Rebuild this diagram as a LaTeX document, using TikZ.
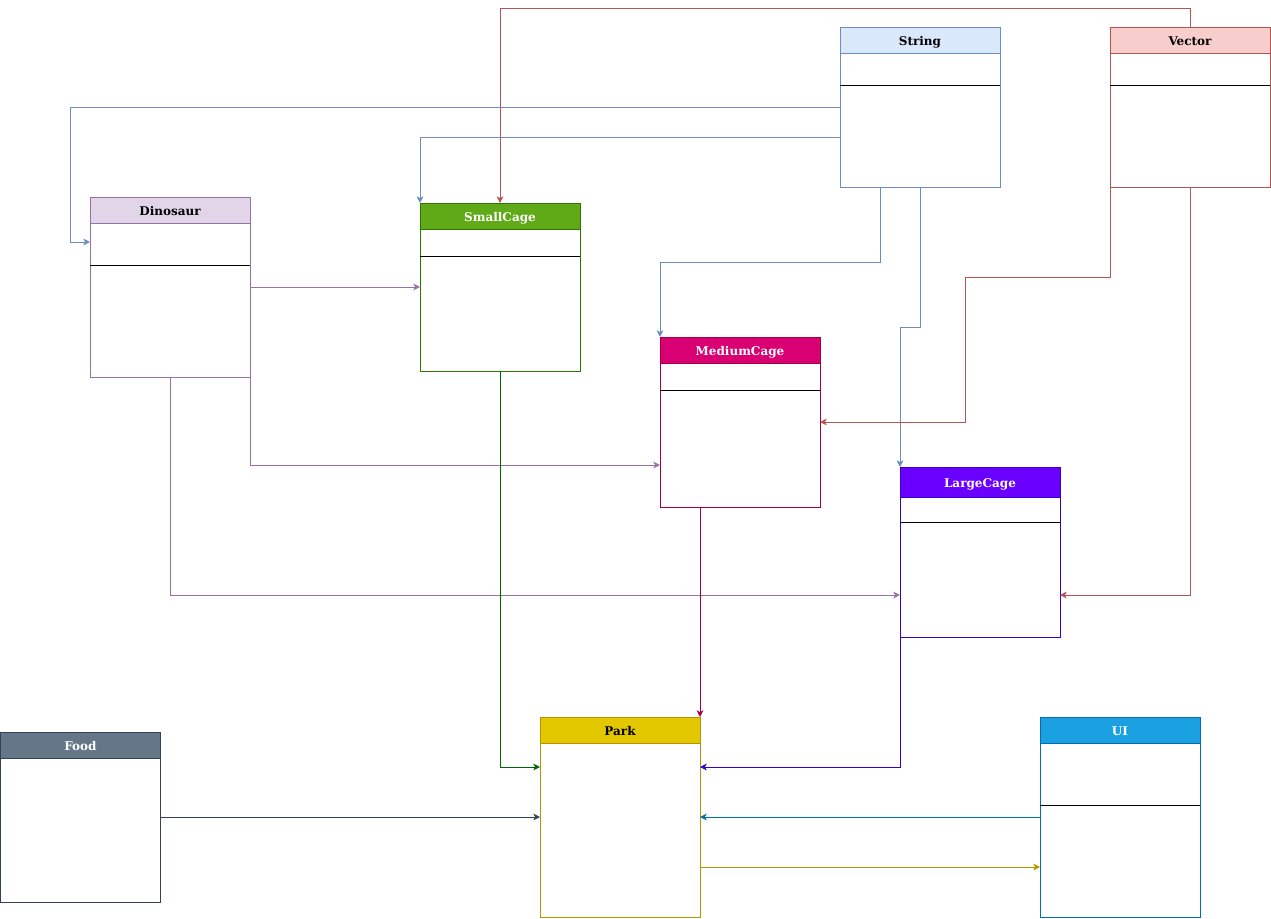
\documentclass[tikz,border=0pt]{standalone}
\usepackage{fontspec}
\setmainfont{DejaVu Serif}
\usepackage{xcolor}
\usepackage{tikz}
\usetikzlibrary{arrows.meta, positioning, calc}
\definecolor{strfill}{HTML}{DAE8FC}
\definecolor{strline}{HTML}{6C8EBF}
\definecolor{vecfill}{HTML}{F8CECC}
\definecolor{vecline}{HTML}{B85450}
\definecolor{dinofill}{HTML}{E1D5E7}
\definecolor{dinoline}{HTML}{9673A6}
\definecolor{smallfill}{HTML}{60A917}
\definecolor{smallline}{HTML}{2D7600}
\definecolor{smalledge}{HTML}{006600}
\definecolor{medfill}{HTML}{D80073}
\definecolor{medline}{HTML}{A50040}
\definecolor{largefill}{HTML}{6A00FF}
\definecolor{largeline}{HTML}{3700CC}
\definecolor{foodfill}{HTML}{647687}
\definecolor{foodline}{HTML}{314354}
\definecolor{parkfill}{HTML}{E3C800}
\definecolor{parkline}{HTML}{B09500}
\definecolor{uifill}{HTML}{1BA1E2}
\definecolor{uiline}{HTML}{006EAF}

\begin{document}
\begin{tikzpicture}[x=0.75pt, y=-0.75pt,
  classbox/.style={rectangle, draw=#1, fill=white, line width=0.75pt, inner sep=0pt,
                   outer sep=0pt, minimum width=120pt},
  hdr/.style 2 args={rectangle, draw=#2, fill=#1, line width=0.75pt, inner sep=0pt,
                     outer sep=0pt, minimum width=120pt, minimum height=19.5pt, anchor=north,
                     text height=8.5pt, text depth=0pt,
                     font=\fontsize{9}{11}\selectfont\bfseries},
  divline/.style={black, line width=0.75pt},
  arr/.style={-{Stealth[length=5pt, width=5pt, inset=1.3pt]}, line width=0.75pt, #1},
]
  \useasboundingbox (0,0) rectangle (1271,918);

  % Classes
  \node[classbox=strline, minimum height=120pt]    (str)  at (920,107)  {};
  \node[hdr={strfill}{strline}]                   (strh) at (str.north) {String};
  \node[classbox=vecline, minimum height=120pt]    (vec)  at (1190,107) {};
  \node[hdr={vecfill}{vecline}]                   (vech) at (vec.north) {Vector};
  \node[classbox=dinoline, minimum height=135pt]   (dino) at (170,287)  {};
  \node[hdr={dinofill}{dinoline}]                 (dinoh) at (dino.north) {Dinosaur};
  \node[classbox=smallline, minimum height=126pt]  (sc)   at (500,287)  {};
  \node[hdr={smallfill}{smallline}, text=white]   (sch)  at (sc.north)  {SmallCage};
  \node[classbox=medline, minimum height=127.5pt]  (mc)   at (740,422)  {};
  \node[hdr={medfill}{medline}, text=white]       (mch)  at (mc.north)  {MediumCage};
  \node[classbox=largeline, minimum height=127.5pt] (lc)  at (980,552)  {};
  \node[hdr={largefill}{largeline}, text=white, minimum height=22.5pt] (lch) at (lc.north) {LargeCage};
  \node[classbox=foodline, minimum height=127.5pt] (food) at (80.5,817) {};
  \node[hdr={foodfill}{foodline}, text=white]     (foodh) at (food.north) {Food};
  \node[classbox=parkline, minimum height=150pt]   (park) at (620,817)  {};
  \node[hdr={parkfill}{parkline}]                 (parkh) at (park.north) {Park};
  \node[classbox=uiline, minimum height=150pt]     (ui)   at (1120,817) {};
  \node[hdr={uifill}{uiline}, text=white]         (uih)  at (ui.north)  {UI};

  % Dividers
  \draw[divline] ($(str.north west)+(0,58)$)  -- ($(str.north east)+(0,58)$);
  \draw[divline] ($(vec.north west)+(0,58)$)  -- ($(vec.north east)+(0,58)$);
  \draw[divline] ($(dino.north west)+(0,68)$) -- ($(dino.north east)+(0,68)$);
  \draw[divline] ($(sc.north west)+(0,53)$)   -- ($(sc.north east)+(0,53)$);
  \draw[divline] ($(mc.north west)+(0,53)$)   -- ($(mc.north east)+(0,53)$);
  \draw[divline] ($(lc.north west)+(0,55)$)   -- ($(lc.north east)+(0,55)$);
  \draw[divline] ($(ui.north west)+(0,88)$)   -- ($(ui.north east)+(0,88)$);

  % Associations
  \draw[arr=vecline] (vec.north) -- ++(0,-19) -| (sc.north);
  \draw[arr=strline] (str.west) -- ++(-770,0) |- ($(dino.west)+(0,-45)$);
  \draw[arr=strline] ($(str.west)+(0,30)$) -| (sc.north west);
  \draw[arr=strline] ($(str.south)+(-40,0)$) -- ++(0,75) -| (mc.north west);
  \draw[arr=strline] (str.south) -- ++(0,140) -| (lc.north west);
  \draw[arr=vecline] (vec.south west) -- ++(0,90) -- ++(-145,0) |- (mc.east);
  \draw[arr=vecline] (vec.south) |- ($(lc.east)+(0,43)$);
  \draw[arr=dinoline] (dino.east) -- (sc.west);
  \draw[arr=dinoline] (dino.south east) |- ($(mc.west)+(0,43)$);
  \draw[arr=dinoline] (dino.south) |- ($(lc.west)+(0,43)$);
  \draw[arr=smalledge] (sc.south) |- ($(park.west)+(0,-50)$);
  \draw[arr=medline] ($(mc.south)+(-40,0)$) -- ($(park.north)+(80,0)$);
  \draw[arr=largeline] (lc.south west) |- ($(park.east)+(0,-50)$);
  \draw[arr=foodline] (food.east) -- (park.west);
  \draw[arr=uiline] (ui.west) -- (park.east);
  \draw[arr=parkline] ($(park.east)+(0,50)$) -- ($(ui.west)+(0,50)$);
\end{tikzpicture}
\end{document}
